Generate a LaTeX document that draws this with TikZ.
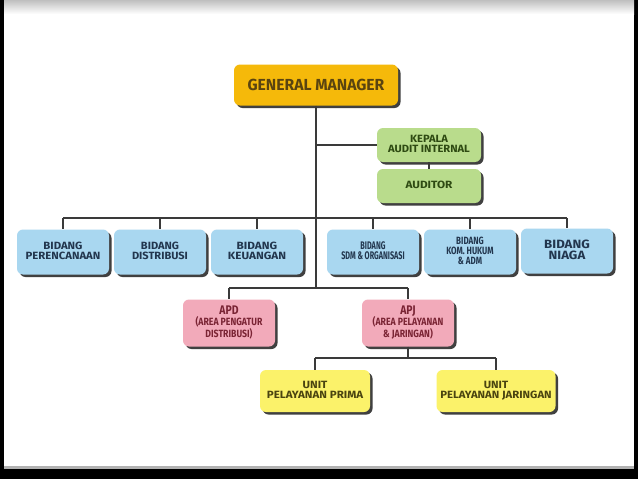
\documentclass[tikz,border=0pt]{standalone}
\usepackage{fontspec}
\usepackage{graphicx}
\setmainfont{Fira Sans}
\usetikzlibrary{shadows}
\definecolor{gmfill}{HTML}{F5B90A}
\definecolor{gmtext}{HTML}{5A4410}
\definecolor{grfill}{HTML}{B9DC8C}
\definecolor{grtext}{HTML}{2E4A12}
\definecolor{blfill}{HTML}{A9D7F0}
\definecolor{bltext}{HTML}{22364E}
\definecolor{pkfill}{HTML}{F2AABA}
\definecolor{pktext}{HTML}{7A2434}
\definecolor{yefill}{HTML}{FBF26A}
\definecolor{yetext}{HTML}{4A4410}
\definecolor{linecol}{HTML}{3A3A3A}
\newcommand\sx[2]{\scalebox{#1}[1]{\begin{tabular}{@{}c@{}}#2\end{tabular}}}
\renewcommand\arraystretch{0.82}
\tikzset{
  orgbox/.style={rounded corners=6pt, inner sep=0pt, align=center,
    font=\bfseries\fontsize{10.5}{11}\selectfont,
    drop shadow={shadow xshift=2.5pt, shadow yshift=-2.5pt, fill=black!75, opacity=1}},
  gmbox/.style={orgbox, fill=gmfill, text=gmtext, minimum width=164pt, minimum height=41pt,
    font=\bfseries\fontsize{16}{16}\selectfont},
  grbox/.style={orgbox, fill=grfill, text=grtext, minimum width=104pt, minimum height=34pt},
  blbox/.style={orgbox, fill=blfill, text=bltext, minimum width=92pt, minimum height=45pt},
  pkbox/.style={orgbox, fill=pkfill, text=pktext, minimum width=92pt, minimum height=47pt},
  yebox/.style={orgbox, fill=yefill, text=yetext, minimum height=42pt},
  conn/.style={draw=linecol, line width=1.7pt}
}
\begin{document}
\begin{tikzpicture}[x=1pt,y=-1pt]
\useasboundingbox (0,0) rectangle (638,479);
\fill[black] (0,0) rectangle (638,479);
\fill[white] (4,0) rectangle (634,469);
\shade[top color=black!25, bottom color=white] (4,0) rectangle (634,14);
\fill[black!30] (4,466) rectangle (634,469);

\node[gmbox] (gm) at (316,85) {\scalebox{0.98}[1]{GENERAL MANAGER}};
\node[grbox] (kai) at (429,145) {\sx{1.06}{KEPALA\\AUDIT INTERNAL}};
\node[grbox] (aud) at (429,186) {\sx{1.12}{AUDITOR}};

\node[blbox] (b1) at (63,252) {\sx{1.08}{BIDANG\\PERENCANAAN}};
\node[blbox] (b2) at (160,252) {\sx{1.05}{BIDANG\\DISTRIBUSI}};
\node[blbox] (b3) at (257,252) {\sx{1.12}{BIDANG\\KEUANGAN}};
\node[blbox] (b4) at (373,252) {\sx{0.66}{\fontsize{11}{11}\selectfont BIDANG\\\fontsize{11}{11}\selectfont SDM \& ORGANISASI}};
\node[blbox] (b5) at (470,252) {\sx{0.76}{BIDANG\\KOM. HUKUM\\\& ADM}};
\node[blbox] (b6) at (567,251) {\sx{1.1}{\fontsize{12}{12}\selectfont BIDANG\\\fontsize{12}{12}\selectfont NIAGA}};

\node[pkbox] (apd) at (229,323) {\sx{0.83}{{\fontsize{12.5}{12}\selectfont APD}\\(AREA PENGATUR\\DISTRIBUSI)}};
\node[pkbox] (apj) at (408,323) {\sx{0.83}{{\fontsize{12.5}{12}\selectfont APJ}\\(AREA PELAYANAN\\\& JARINGAN)}};

\node[yebox, minimum width=110pt] (upp) at (315,391) {\sx{1.1}{UNIT\\PELAYANAN PRIMA}};
\node[yebox, minimum width=119pt] (upj) at (496,391) {\sx{1.08}{UNIT\\PELAYANAN JARINGAN}};

\coordinate (busA) at (316,218);
\coordinate (busB) at (316,288);
\coordinate (busC) at (408,358);

\draw[conn] (gm.south) -- (busB);
\draw[conn] (gm.south |- kai.west) -- (kai.west);
\draw[conn] (kai.south) -- (aud.north);
\draw[conn] (b1.north |- busA) -- (b6.north |- busA);
\foreach \b in {b1,b2,b3,b4,b5,b6} \draw[conn] (\b.north |- busA) -- (\b.north);
\draw[conn] (apd.north |- busB) -- (apj.north |- busB);
\draw[conn] (apd.north |- busB) -- (apd.north);
\draw[conn] (apj.north |- busB) -- (apj.north);
\draw[conn] (apj.south) -- (busC);
\draw[conn] (upp.north |- busC) -- (upj.north |- busC);
\draw[conn] (upp.north |- busC) -- (upp.north);
\draw[conn] (upj.north |- busC) -- (upj.north);
\end{tikzpicture}
\end{document}
